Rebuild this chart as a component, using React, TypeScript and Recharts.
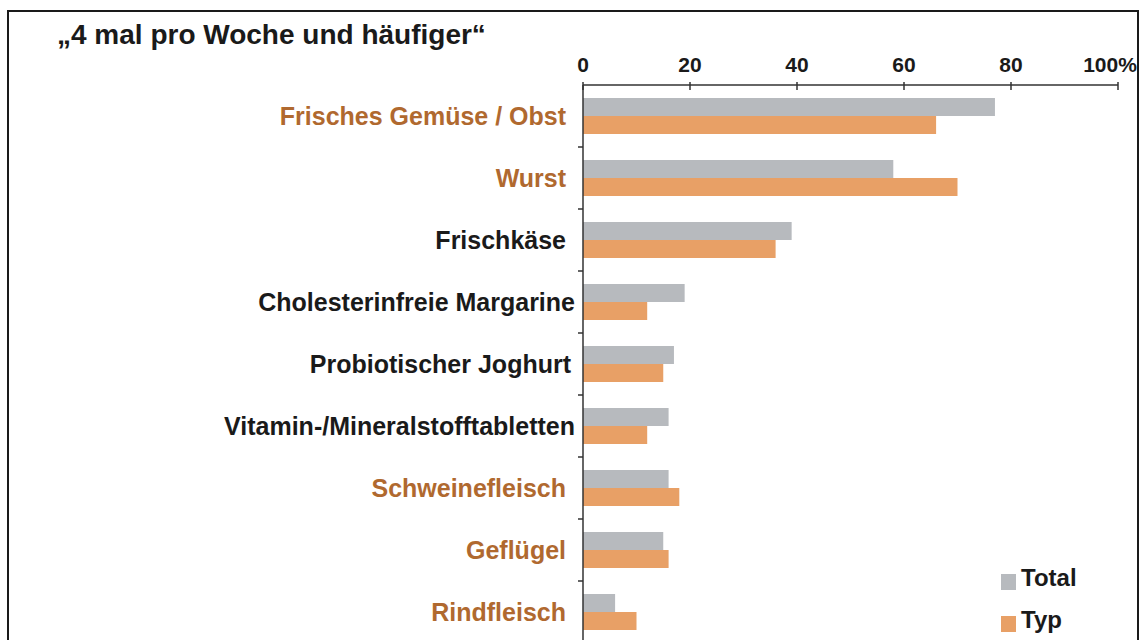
import React from "react";
import { BarChart, Bar, XAxis, YAxis, Legend } from "recharts";

const categories = [
  "Frisches Gemüse / Obst",
  "Wurst",
  "Frischkäse",
  "Cholesterinfreie Margarine",
  "Probiotischer Joghurt",
  "Vitamin-/Mineralstofftabletten",
  "Schweinefleisch",
  "Geflügel",
  "Rindfleisch",
];
const totalValues = [77, 58, 39, 19, 17, 16, 16, 15, 6];
const typValues = [66, 70, 36, 12, 15, 12, 18, 16, 10];
const xTicks = [0, 20, 40, 60, 80, 100];

const ORANGE_TEXT = "#B0692F";
const labelColors = [
  ORANGE_TEXT, ORANGE_TEXT, "#1a1a1a", "#1a1a1a", "#1a1a1a", "#1a1a1a",
  ORANGE_TEXT, ORANGE_TEXT, ORANGE_TEXT,
];
const labelGaps = [17, 17, 17, 8, 12, 8, 17, 17, 17];

const data = categories.map((name, i) => ({
  name,
  total: totalValues[i],
  typ: typValues[i],
}));

const FONT = "'Liberation Sans', Arial, sans-serif";
const AXIS = "#333";

const CategoryTick = (props: any) => {
  const { x, y, payload, index } = props;
  const idx = categories.indexOf(payload.value);
  const half = typeof payload.offset === "number" ? payload.offset : 0;
  return (
    <g>
      {index > 0 && half > 0 ? (
        <line x1={x - 5} x2={x} y1={y - half} y2={y - half} stroke={AXIS} strokeWidth={1.5} />
      ) : null}
      <text
        x={x - labelGaps[idx]}
        y={y}
        dy="0.355em"
        textAnchor="end"
        fill={labelColors[idx]}
        fontFamily={FONT}
        fontWeight="bold"
        fontSize={25}
      >
        {payload.value}
      </text>
    </g>
  );
};

const ValueTick = (props: any) => {
  const { x, y, payload } = props;
  const isLast = payload.value === 100;
  return (
    <g>
      <line x1={x} x2={x} y1={y - 3} y2={y + 5} stroke={AXIS} strokeWidth={1.5} />
      <text
        x={isLast ? x - 8 : x}
        y={y - 13}
        textAnchor="middle"
        fill="#1a1a1a"
        fontFamily={FONT}
        fontWeight="bold"
        fontSize={21}
      >
        {isLast ? `${payload.value}%` : payload.value}
      </text>
    </g>
  );
};

const LegendContent = (props: any) => {
  const { payload } = props;
  return (
    <div style={{ display: "flex", flexDirection: "column" }}>
      {(payload || []).map((p: any) => (
        <div
          key={p.value}
          style={{ display: "flex", alignItems: "center", height: 42 }}
        >
          <div
            style={{
              width: 15,
              height: 16,
              background: p.color,
              marginRight: 5,
              marginTop: 8,
            }}
          />
          <span
            style={{
              fontFamily: FONT,
              fontWeight: "bold",
              fontSize: 24,
              color: "#1a1a1a",
            }}
          >
            {p.value}
          </span>
        </div>
      ))}
    </div>
  );
};

export default function App() {
  return (
    <div
      style={{
        position: "absolute",
        left: 0,
        top: 0,
        width: 1141,
        height: 640,
        overflow: "hidden",
        background: "#fff",
      }}
    >
      <div
        style={{
          position: "absolute",
          left: 7,
          top: 10,
          width: 1128,
          height: 700,
          border: "2px solid #1a1a1a",
        }}
      />
      <div
        style={{
          position: "absolute",
          left: 57,
          top: 19,
          fontFamily: FONT,
          fontWeight: "bold",
          fontSize: 28,
          color: "#1a1a1a",
          whiteSpace: "nowrap",
        }}
      >
        „4 mal pro Woche und häufiger“
      </div>
      <div style={{ position: "absolute", left: 0, top: 0 }}>
        <BarChart
          width={1141}
          height={643}
          data={data}
          layout="vertical"
          margin={{ top: 0, right: 23, bottom: 0, left: 0 }}
          barGap={0}
        >
          <XAxis
            type="number"
            orientation="top"
            domain={[0, 100]}
            ticks={xTicks}
            height={85}
            tick={ValueTick}
            tickSize={0}
            tickMargin={0}
            tickLine={false}
            axisLine={{ stroke: AXIS, strokeWidth: 1.5 }}
            interval={0}
          />
          <YAxis
            type="category"
            dataKey="name"
            width={583}
            tick={CategoryTick}
            tickSize={0}
            tickMargin={0}
            tickLine={false}
            axisLine={{ stroke: AXIS, strokeWidth: 1.5 }}
            interval={0}
          />
          <Legend
            layout="horizontal"
            verticalAlign="middle"
            align="center"
            content={LegendContent}
            wrapperStyle={{ position: "absolute", left: 1001, top: 557, width: 120 }}
          />
          <Bar
            dataKey="total"
            name="Total"
            fill="#B7BABE"
            barSize={18}
            isAnimationActive={false}
          />
          <Bar
            dataKey="typ"
            name="Typ"
            fill="#E8A066"
            barSize={18}
            isAnimationActive={false}
          />
        </BarChart>
      </div>
    </div>
  );
}
